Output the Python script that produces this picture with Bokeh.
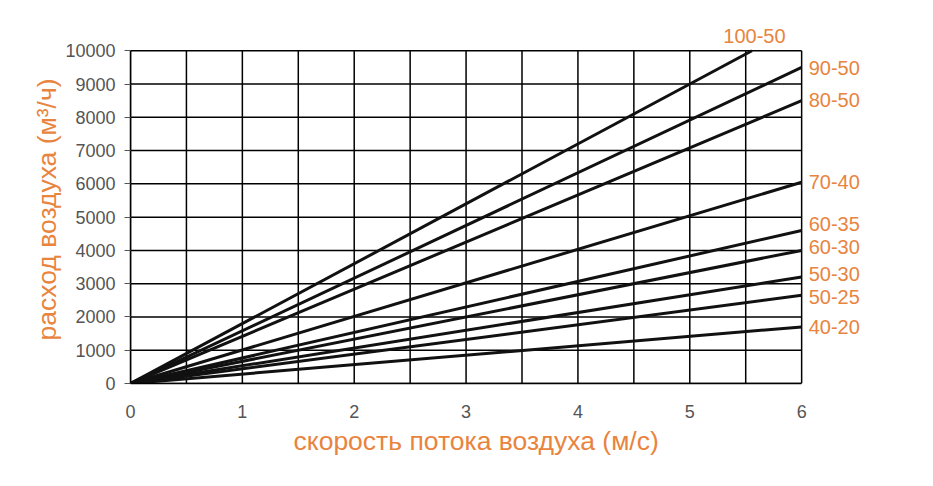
from bokeh.plotting import figure
from bokeh.models import FixedTicker, Range1d, Label, Title
from bokeh.embed import file_html
from bokeh.resources import INLINE

# data
sizes = ["100-50", "90-50", "80-50", "70-40", "60-35", "60-30", "50-30", "50-25", "40-20"]
flow_at_6 = [10800, 9500, 8500, 6050, 4600, 4000, 3200, 2650, 1700]
x_ticks = [0, 1, 2, 3, 4, 5, 6]
y_ticks = [0, 1000, 2000, 3000, 4000, 5000, 6000, 7000, 8000, 9000, 10000]
x_grid = [0, 0.5, 1, 1.5, 2, 2.5, 3, 3.5, 4, 4.5, 5, 5.5, 6]
x_title = "скорость потока воздуха (м/с)"
y_title = "расход воздуха (м³/ч)"

ORANGE = "#E8843E"
GREY = "#555555"
FONT = "Liberation Sans"

X_MAX = x_ticks[-1]
Y_MAX = y_ticks[-1]

# frame is widened so the curve labels (right and top) are not clipped;
# the visible chart box is drawn from the tick lists
p = figure(width=925, height=478, output_backend="svg", toolbar_location=None,
           x_range=Range1d(0, 7.0), y_range=Range1d(0, 11000),
           min_border_left=130, min_border_right=12, min_border_top=17, min_border_bottom=95)
p.outline_line_color = None
p.grid.visible = False

# grid lines (bounded to the chart box)
p.segment(x0=x_grid, y0=[0] * len(x_grid), x1=x_grid, y1=[Y_MAX] * len(x_grid),
          line_color="black", line_width=1.5)
p.segment(x0=[0] * len(y_ticks), y0=y_ticks, x1=[X_MAX] * len(y_ticks), y1=y_ticks,
          line_color="black", line_width=1.5)

# flow lines, cut at the top of the chart box
for s, v in zip(sizes, flow_at_6):
    slope = v / X_MAX
    x_end = min(X_MAX, Y_MAX / slope)
    p.line([0, x_end], [0, slope * x_end], line_color="#111111", line_width=3)

# axes
p.xaxis.ticker = FixedTicker(ticks=x_ticks)
p.yaxis.ticker = FixedTicker(ticks=y_ticks)
p.xaxis.bounds = (0, X_MAX)
p.yaxis.bounds = (0, Y_MAX)
for ax in (p.xaxis, p.yaxis):
    ax.axis_line_color = "black"
    ax.axis_line_width = 1.5
    ax.minor_tick_line_color = None
    ax.major_label_text_font = FONT
    ax.major_label_text_font_size = "18px"
    ax.major_label_text_color = GREY
p.xaxis.major_tick_out = 0
p.xaxis.major_tick_in = 0
p.xaxis.major_label_standoff = 21
p.yaxis.major_tick_out = 6
p.yaxis.major_tick_in = 0
p.yaxis.major_tick_line_color = GREY
p.yaxis.major_label_standoff = 9

# axis titles, aligned to the chart box rather than the widened frame
p.add_layout(Title(text=x_title, align="left", offset=163, text_font=FONT,
                   text_font_size="26.5px", text_font_style="normal",
                   text_color=ORANGE, standoff=7), "below")
p.add_layout(Title(text=y_title, align="left", offset=43, text_font=FONT,
                   text_font_size="26.5px", text_font_style="normal",
                   text_color=ORANGE, standoff=2), "left")

# line labels
lab_x = [5.55, 6, 6, 6, 6, 6, 6, 6, 6]
lab_y = [10000, 9500, 8500, 6050, 4600, 4000, 3200, 2650, 1700]
x_off = [-28, 7, 7, 7, 7, 7, 7, 7, 7]
y_off = [15, -1, 1, 0, 6, 3, 3, -2, 0]
for t, xx, yy, xo, yo in zip(sizes, lab_x, lab_y, x_off, y_off):
    p.add_layout(Label(x=xx, y=yy, text=t, x_offset=xo, y_offset=yo,
                       text_font=FONT, text_font_size="20px", text_color=ORANGE,
                       text_baseline="middle", text_align="left"))

open("out.html", "w").write(file_html(p, INLINE))
